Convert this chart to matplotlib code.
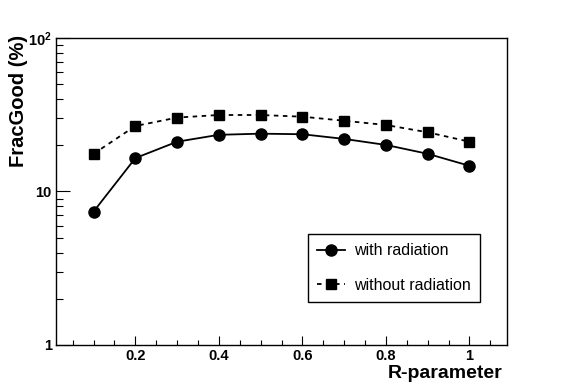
import matplotlib
matplotlib.use("Agg")
import matplotlib.pyplot as plt
from matplotlib.ticker import FixedLocator, NullFormatter, LogLocator

plt.rcParams['font.family'] = ['Liberation Sans', 'DejaVu Sans']
plt.rcParams['mathtext.fontset'] = 'custom'
plt.rcParams['mathtext.rm'] = 'Liberation Sans'
plt.rcParams['mathtext.bf'] = 'Liberation Sans:bold'

r_param = [0.1, 0.2, 0.3, 0.4, 0.5, 0.6, 0.7, 0.8, 0.9, 1.0]
with_radiation = [7.4, 16.5, 21.1, 23.4, 23.8, 23.6, 22.0, 20.1, 17.6, 14.7]
without_radiation = [17.6, 26.7, 30.3, 31.5, 31.5, 30.7, 28.9, 27.1, 24.3, 21.1]
x_ticks = [0.2, 0.4, 0.6, 0.8, 1.0]
x_tick_labels = ['0.2', '0.4', '0.6', '0.8', '1']
y_ticks = [1, 10, 100]
y_tick_labels = ['1', '10', r'$\mathbf{10^{2}}$']

fig = plt.figure(figsize=(5.67, 3.84), dpi=100)
ax = fig.add_axes([0.0988, 0.1016, 0.7954, 0.7995])

ax.plot(r_param, with_radiation, color='black', linestyle='-', linewidth=1.3,
        marker='o', markersize=8, label='with radiation')
ax.plot(r_param, without_radiation, color='black', linestyle=(0, (2.5, 2.5)), linewidth=1.3,
        marker='s', markersize=7, label='without radiation')

ax.set_yscale('log')
ax.set_xlim(0.01, 1.09)
ax.set_ylim(1, 100)

ax.xaxis.set_major_locator(FixedLocator(x_ticks))
ax.set_xticklabels(x_tick_labels, fontweight='bold', fontsize=10.5)
ax.xaxis.set_minor_locator(FixedLocator([0.05 * i for i in range(1, 22)]))
ax.yaxis.set_major_locator(FixedLocator(y_ticks))
ax.set_yticklabels(y_tick_labels, fontweight='bold', fontsize=10.5)
ax.yaxis.set_minor_locator(LogLocator(base=10, subs=range(2, 10)))
ax.yaxis.set_minor_formatter(NullFormatter())

ax.tick_params(which='both', direction='in', top=False, right=False, width=0.8)
ax.tick_params(axis='x', which='major', length=6.5, pad=3)
ax.tick_params(axis='x', which='minor', length=3.3)
ax.tick_params(axis='y', which='major', length=10, pad=3)
ax.tick_params(axis='y', which='minor', length=5)
for s in ax.spines.values():
    s.set_linewidth(1.0)

ax.set_xlabel('R-parameter', fontweight='bold', fontsize=14)
ax.xaxis.set_label_coords(0.991, -0.066)
ax.xaxis.label.set_horizontalalignment('right')
ax.xaxis.label.set_verticalalignment('top')
ax.set_ylabel('FracGood (%)', fontweight='bold', fontsize=14.5)
ax.yaxis.set_label_coords(-0.062, 1.01)
ax.yaxis.label.set_horizontalalignment('right')

leg = ax.legend(loc='lower left', bbox_to_anchor=(0.559, 0.140, 0.381, 0.228),
                mode='expand', fontsize=11.5, frameon=True, fancybox=False,
                edgecolor='black', framealpha=1, labelspacing=1.25, handlelength=1.75,
                handletextpad=0.56, borderpad=0.56, borderaxespad=0)
leg.get_frame().set_linewidth(1.0)

fig.savefig('out.png', dpi=100)
